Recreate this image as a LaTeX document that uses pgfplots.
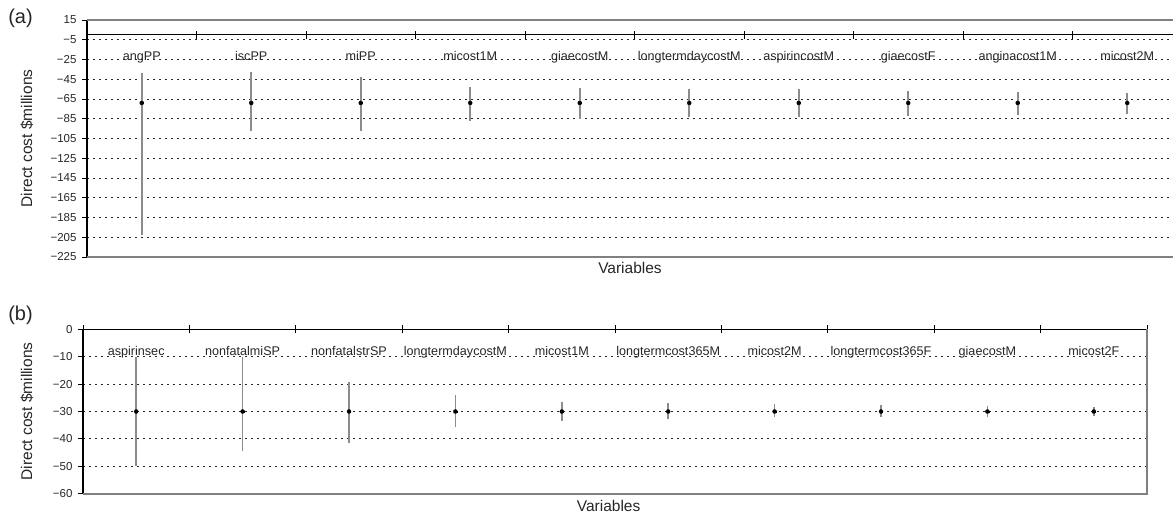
\documentclass[border=0pt]{standalone}
\usepackage{fontspec}
\setmainfont{Liberation Sans}
\usepackage{pgfplots}
\usepackage{pgfplotstable}
\pgfplotsset{compat=1.18}

% panel (a): category position, low, central, high
\pgfplotstableread{
x    lo     mid   hi
0.5  -203   -69   -39
1.5  -97    -69   -38
2.5  -97    -69   -42.5
3.5  -87    -69   -52.5
4.5  -85.5  -69   -54
5.5  -83.5  -69   -55
6.5  -83    -69   -55.2
7.5  -82.2  -69   -56.6
8.5  -81    -69   -58
9.5  -80.2  -69   -58.6
}\tablea

% panel (b)
\pgfplotstableread{
x    lo     mid   hi
0.5  -50    -30   -10
1.5  -44.4  -30   -10
2.5  -41.6  -30   -19.1
3.5  -35.5  -30   -24
4.5  -33.5  -30   -26.4
5.5  -32.9  -30   -26.8
6.5  -32.1  -30   -27.3
7.5  -32.1  -30   -27.6
8.5  -31.9  -30   -28
9.5  -31.6  -30   -28.2
}\tableb

\pgfplotsset{
  tornado/.style={
    scale only axis,
    axis x line*=middle,
    axis y line*=left,
    axis line style={-, black, line width=1.2pt},
    hide obscured x ticks=false,
    hide obscured y ticks=false,
    tick align=center,
    xtick={0.5,1.5,...,9.5},
    major x tick style={draw=none},
    minor tick length=8pt,
    minor x tick style={black, line width=0.9pt},
    major tick length=6pt,
    major y tick style={black, line width=0.9pt, xshift=-2pt},
    xticklabel style={font=\fontsize{12.6}{14}\selectfont, text=black!85, anchor=base, yshift=-23pt},
    yticklabel style={font=\fontsize{11.5}{13}\selectfont, text=black!85, anchor=east, xshift=-4pt},
    ymajorgrids,
    major grid style={black!85, line width=0.9pt, dash pattern=on 2pt off 4pt},
    label style={font=\fontsize{15.5}{18}\selectfont, text=black!85},
    error bars/error bar style={draw=black!45, solid, line width=1.6pt},
  },
  rangeplot/.style={only marks, mark=none,
    error bars/.cd, y dir=both, y explicit, error mark=none},
  midplot/.style={only marks, mark=square*, mark size=0.5pt, black,
    every mark/.append style={xshift=0.9pt}},
}

\begin{document}
\begin{tikzpicture}
\path[use as bounding box] (0,0) rectangle (1173pt,-516pt);

% ---------------- panel (a)
\begin{axis}[tornado,
  at={(87pt,-20pt)}, anchor=north west,
  width=1086pt, height=237pt,
  xmin=0, xmax=9.918,
  ymin=-225, ymax=15,
  minor xtick={1,...,9},
  xticklabels={angPP,iscPP,miPP,micost1M,giaecostM,longtermdaycostM,aspirincostM,giaecostF,anginacost1M,micost2M},
  ytick={15,-5,-25,-45,-65,-85,-105,-125,-145,-165,-185,-205,-225},
  yticklabels={15,−5,−25,−45,−65,−85,−105,−125,−145,−165,−185,−205,−225},
  xlabel={Variables},
  xlabel style={at={(axis description cs:0.5,0)}, anchor=center, yshift=-11pt},
  ylabel={Direct cost \$millions},
  ylabel style={at={(axis description cs:-0.0553,0.5)}, anchor=center},
  after end axis/.code={
    \draw[black!50, line width=1.7pt] (rel axis cs:0,1) -- (rel axis cs:1,1);
    \draw[black!50, line width=1.7pt] (rel axis cs:0,0) -- (rel axis cs:1,0);
  },
]
\addplot [rangeplot] table [x=x, y=mid,
  y error plus expr=\thisrow{hi}-\thisrow{mid},
  y error minus expr=\thisrow{mid}-\thisrow{lo}] {\tablea};
\addplot [midplot] table [x=x, y=mid] {\tablea};
\end{axis}

% ---------------- panel (b)
\begin{axis}[tornado,
  at={(83pt,-329.3pt)}, anchor=north west,
  width=1064pt, height=164.4pt,
  xmin=0, xmax=10,
  ymin=-60, ymax=0,
  minor xtick={0,...,10},
  xticklabels={aspirinsec,nonfatalmiSP,nonfatalstrSP,longtermdaycostM,micost1M,longtermcost365M,micost2M,longtermcost365F,giaecostM,micost2F},
  ytick={0,-10,-20,-30,-40,-50,-60},
  yticklabels={0,−10,−20,−30,−40,−50,−60},
  xlabel={Variables},
  xlabel style={at={(axis description cs:0.494,0)}, anchor=center, yshift=-12.7pt},
  ylabel={Direct cost \$millions},
  ylabel style={at={(axis description cs:-0.0526,0.5)}, anchor=center},
  after end axis/.code={
    \draw[black!50, line width=1.7pt] (rel axis cs:0,0) -- (rel axis cs:1,0) -- (rel axis cs:1,1);
  },
]
\addplot [rangeplot] table [x=x, y=mid,
  y error plus expr=\thisrow{hi}-\thisrow{mid},
  y error minus expr=\thisrow{mid}-\thisrow{lo}] {\tableb};
\addplot [midplot] table [x=x, y=mid] {\tableb};
\end{axis}

\node[font=\fontsize{20}{24}\selectfont, text=black!85] at (20.5pt,-18pt) {(a)};
\node[font=\fontsize{20}{24}\selectfont, text=black!85] at (20.5pt,-315pt) {(b)};
\end{tikzpicture}
\end{document}
